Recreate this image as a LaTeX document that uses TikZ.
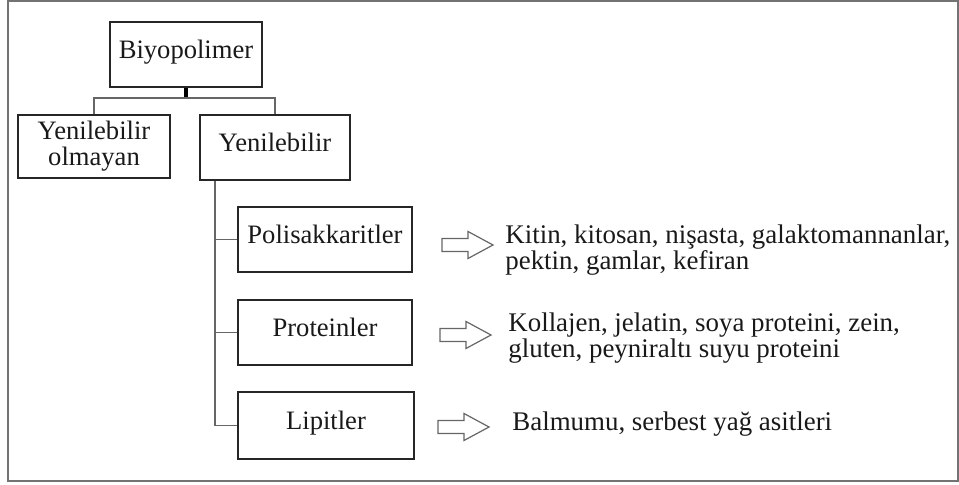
\documentclass[tikz,border=0pt]{standalone}
\usepackage{fontspec}
\setmainfont{Liberation Serif}
\begin{document}
\begin{tikzpicture}[x=0.5pt,y=-0.5pt,
  every node/.style={font=\fontsize{13.3}{13}\selectfont, text=black!90},
  box/.style={draw=black!85, line width=0.9pt, inner sep=0pt, align=center},
  onebox/.style={box, text height=0.7em, text depth=0.25em},
  conn/.style={draw=black!60, line width=0.7pt},
  stem/.style={draw=black, line width=1.6pt},
  barrow/.style={draw=black!60, line width=0.6pt, fill=white},
  info/.style={anchor=base west, inner sep=0pt, align=left, font=\fontsize{13.45}{13.3}\selectfont}]
\useasboundingbox (0,0) rectangle (959,485);
\draw[draw=black!55, line width=1pt] (8,1) rectangle (958,481);
% boxes
\node[onebox, minimum width=76pt, minimum height=32.5pt] (bio) at (186,54.5) {Biyopolimer};
\node[box, minimum width=76pt, minimum height=31.5pt] (olm) at (94,146.5) {Yenilebilir\\olmayan};
\node[onebox, minimum width=75pt, minimum height=32.5pt] (yen) at (275,147.5) {Yenilebilir};
\node[onebox, minimum width=87pt, minimum height=32.5pt] (poli) at (325,239.5) {Polisakkaritler};
\node[onebox, minimum width=87pt, minimum height=32.5pt] (prot) at (325,332.5) {Proteinler};
\node[onebox, minimum width=88pt, minimum height=33.5pt] (lip) at (326,425.5) {Lipitler};
% connectors
\coordinate (j) at (186,98);
\draw[stem] (bio.south) -- (j);
\draw[conn] (olm.north) |- (j) -| (yen.north);
\coordinate (trunk) at ([xshift=8pt]yen.south west);
\draw[conn] (trunk) |- (lip.west);
\draw[conn] (poli.west -| trunk) -- (poli.west);
\draw[conn] (prot.west -| trunk) -- (prot.west);
% block arrows
\foreach \n/\ax/\ay in {a1/442/245, a2/440/335, a3/438/427}{
  \draw[barrow] (\ax,\ay-6.5) -- ++(26,0) -- ++(0,-7) -- ++(25,13.5) -- ++(-25,13.5) -- ++(0,-7) -- ++(-26,0) -- cycle;
}
% info texts (base anchor = baseline of last line)
\node[info] (t1) at (505,270) {Kitin, kitosan, nişasta, galaktomannanlar,\\pektin, gamlar, kefiran};
\node[info] (t2) at (508,358) {Kollajen, jelatin, soya proteini, zein,\\gluten, peyniraltı suyu proteini};
\node[info] (t3) at (512,431) {Balmumu, serbest yağ asitleri};
\end{tikzpicture}
\end{document}
